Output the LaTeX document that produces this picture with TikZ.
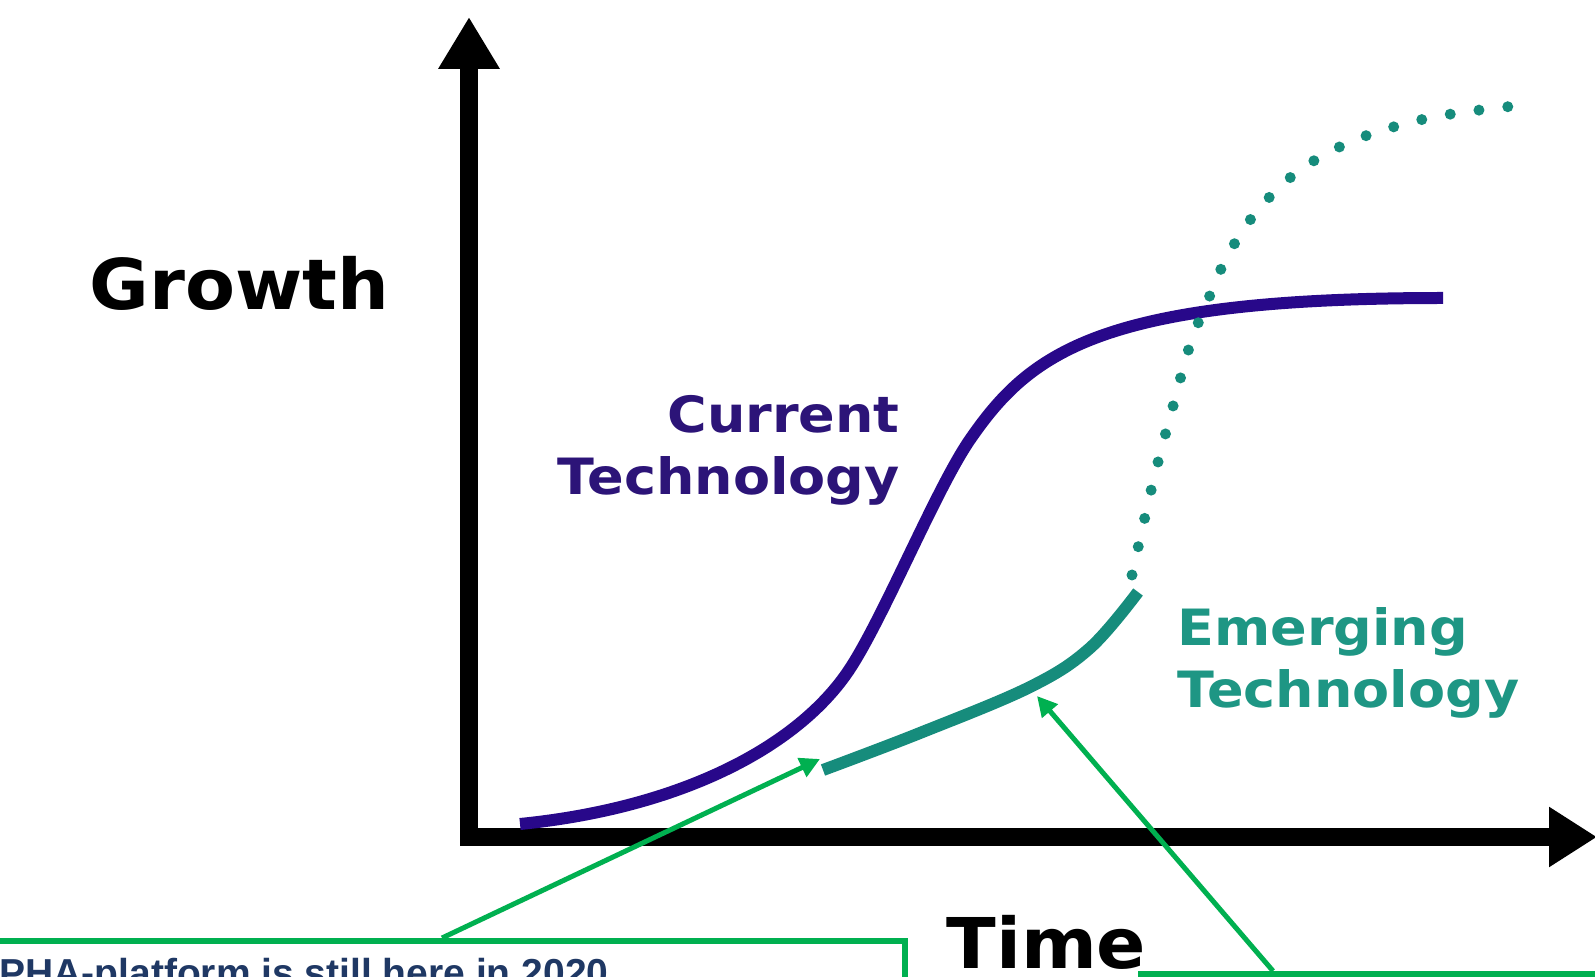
\documentclass[tikz,border=0pt]{standalone}
\usepackage{fontspec}
\usepackage{tikz}
\usetikzlibrary{arrows.meta}
\newfontfamily\bigfont{DejaVu Sans}[FakeStretch=1.04]
\newfontfamily\curvefont{DejaVu Sans}[FakeStretch=1.08]
\newfontfamily\arialfont{Liberation Sans}
\definecolor{curpurple}{RGB}{40,8,138}
\definecolor{curtext}{RGB}{44,20,120}
\definecolor{emteal}{RGB}{22,140,124}
\definecolor{emtext}{RGB}{30,150,132}
\definecolor{notegreen}{RGB}{0,176,80}
\definecolor{notenavy}{RGB}{31,56,100}

\begin{document}
\begin{tikzpicture}[x=0.5pt,y=-0.5pt,
	axisline/.style={line width=9pt, line join=miter,
		{Triangle[length=26pt,width=29pt]}-{Triangle[length=24pt,width=28.5pt]}},
	currentcurve/.style={curpurple, line width=6pt},
	emergingcurve/.style={emteal, line width=6pt},
	futurecurve/.style={emteal, line width=5.5pt, line cap=round, dash pattern=on 0pt off 14.5pt},
	bigword/.style={inner sep=0pt, font=\bigfont\bfseries\fontsize{35}{42}\selectfont},
	curvelabel/.style={inner sep=0pt, font=\curvefont\bfseries\fontsize{25}{31}\selectfont},
	notebox/.style={draw=notegreen, line width=3pt},
	notearrow/.style={notegreen, line width=2.5pt, -{Triangle[length=10pt,width=10pt]}}]
		\begin{scope}                           % scope environment
			\clip (0,0) rectangle (1595,977);
			\fill[white] (0,0) rectangle (1595,977);
			% axes
			\draw[axisline] (469,17) -- (469,837) -- (1597,837);
			\node[bigword, anchor=base west] (growth) at (89,310) {Growth};
			\node[bigword, anchor=base west] (time) at (946,968) {Time};
			% s-curves
			\draw[currentcurve] (520,824) .. controls (680,808) and (795,748) .. (847,673)
				.. controls (881,624) and (934,493) .. (969,441)
				.. controls (1030,352) and (1100,298) .. (1443,298);
			\draw[emergingcurve] plot[smooth, tension=0.6] coordinates {(823,770) (920,733) (1030,687) (1090,648) (1138,592)};
			\draw[futurecurve] plot[smooth, tension=0.6] coordinates {(1132,575) (1142,530) (1156,470) (1172,410) (1190,345) (1208,300) (1228,255) (1258,210) (1300,170) (1355,140) (1420,120) (1480,110) (1535,104)};
			\node[curvelabel, curtext, align=right, anchor=north east] (current) at (900,395) {Current\\Technology};
			\node[curvelabel, emtext, align=left, anchor=north west] (emerging) at (1177,607) {Emerging\\Technology};
			% notes
			\node[notebox, anchor=north east, minimum width=960, minimum height=120] (phabox) at (908,938) {};
			\node[inner sep=0pt, anchor=base west, notenavy, font=\arialfont\bfseries\fontsize{19.5}{23}\selectfont] (phatext) at (-1,986) {PHA-platform is still here in 2020};
			\node[notebox, anchor=north west, minimum width=560, minimum height=120] (emergebox) at (1138,971) {};
			\coordinate (phatail) at (442,938);
			\coordinate (phatip) at (820,759);
			\coordinate (emtail) at (1273,971);
			\coordinate (emtip) at (1037,696);
			\draw[notearrow] (phatail) -- (phatip);
			\draw[notearrow] (emtail) -- (emtip);
		\end{scope}
		\end{tikzpicture}
\end{document}
